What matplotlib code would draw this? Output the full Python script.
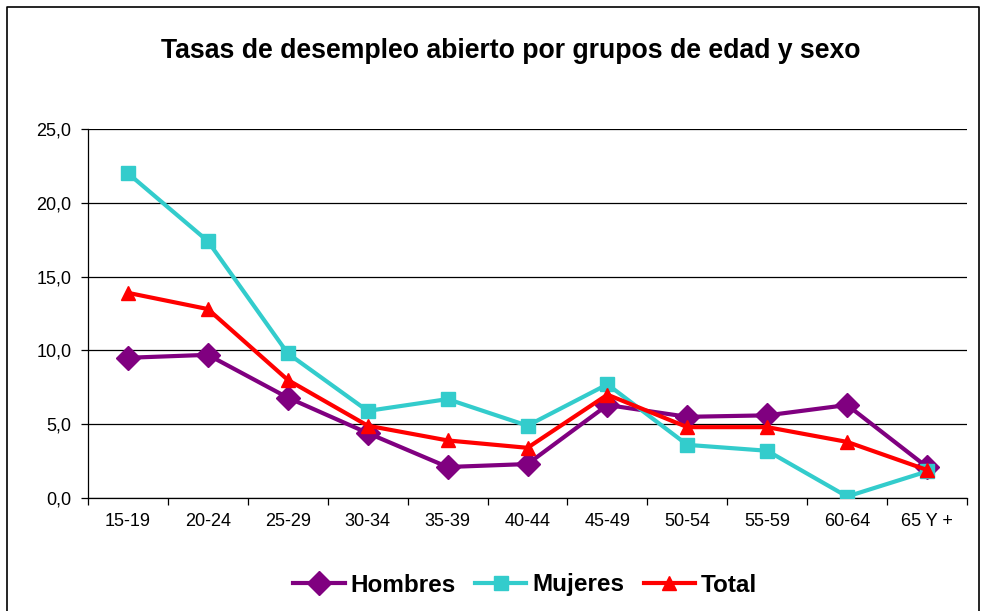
import numpy as np
import matplotlib.pyplot as plt
from matplotlib.lines import Line2D

plt.rcParams['font.family'] = ['Liberation Sans', 'DejaVu Sans']

grupos = ['15-19', '20-24', '25-29', '30-34', '35-39', '40-44',
          '45-49', '50-54', '55-59', '60-64', '65 Y +']
hombres = [9.5, 9.7, 6.8, 4.4, 2.1, 2.3, 6.3, 5.5, 5.6, 6.3, 2.1]
mujeres = [22.0, 17.4, 9.8, 5.9, 6.7, 4.9, 7.7, 3.6, 3.2, 0.1, 1.8]
total = [13.9, 12.8, 8.0, 4.9, 3.9, 3.4, 7.0, 4.8, 4.8, 3.8, 1.9]

fig = plt.figure(figsize=(9.82, 6.11), dpi=100)
ax = fig.add_axes([88/982, 1-498/611, (967-88)/982, (498-129)/611])

x = np.arange(len(grupos))
ax.plot(x, hombres, color='#800080', lw=3, marker='D', ms=12, label='Hombres', zorder=3)
ax.plot(x, mujeres, color='#33CCCC', lw=3, marker='s', ms=9.5, label='Mujeres', zorder=3)
ax.plot(x, total, color='#FF0000', lw=3, marker='^', ms=9.5, label='Total', zorder=4)

ax.set_ylim(0, 25)
ax.set_xlim(-0.5, len(grupos)-0.5)
ax.set_yticks(np.arange(0, 26, 5))
ax.set_yticklabels([f'{v:.1f}'.replace('.', ',') for v in np.arange(0, 26, 5)], fontsize=13)
ax.yaxis.grid(True, color='black', lw=0.9)
ax.set_axisbelow(True)
ax.set_xticks(x)
ax.set_xticklabels(grupos, fontsize=13)
ax.set_xticks(np.arange(-0.5, len(grupos), 1), minor=True)
ax.tick_params(axis='x', which='major', length=0, pad=11)
ax.tick_params(axis='x', which='minor', length=5, width=0.9)
ax.tick_params(axis='y', length=5, width=0.9, pad=7)
ax.spines['top'].set_visible(False)
ax.spines['right'].set_visible(False)
for s in ['left', 'bottom']:
    ax.spines[s].set_linewidth(0.9)

fig.text(0.52, 1-51/611, 'Tasas de desempleo abierto por grupos de edad y sexo',
         ha='center', va='center', fontsize=19.2, fontweight='bold')

handles, labels = ax.get_legend_handles_labels()
fig.legend(handles, labels, loc='center', bbox_to_anchor=(0.535, 1-585/611), ncol=3,
           frameon=False, prop={'size': 17.5, 'weight': 'bold'},
           handlelength=2.1, columnspacing=0.8, handletextpad=0.25)

fig.add_artist(Line2D([7/982, 7/982, 979/982, 979/982], [0, 1-7/611, 1-7/611, 0],
                      color='black', lw=1.2, transform=fig.transFigure))

fig.savefig('out.png', dpi=100)
